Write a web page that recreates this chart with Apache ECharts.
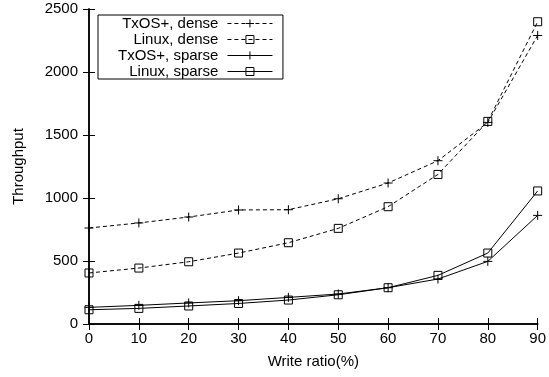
<!DOCTYPE html>
<html>
<head>
<meta charset="utf-8">
<script src="https://cdn.jsdelivr.net/npm/echarts@6/dist/echarts.min.js"></script>
<style>
html,body{margin:0;padding:0;background:#fff;}
#chart{width:549px;height:377px;}
</style>
</head>
<body>
<div id="chart"></div>
<script>
var writeRatio = [0, 10, 20, 30, 40, 50, 60, 70, 80, 90];
var txosDense = [762, 802, 849, 905, 907, 994, 1119, 1296, 1600, 2290];
var linuxDense = [405, 444, 494, 563, 645, 759, 931, 1187, 1608, 2399];
var txosSparse = [132, 148, 167, 185, 211, 238, 288, 357, 497, 862];
var linuxSparse = [113, 124, 143, 163, 190, 232, 288, 386, 563, 1056];
var seriesNames = ['TxOS+, dense', 'Linux, dense', 'TxOS+, sparse', 'Linux, sparse'];

var FONT = 'Liberation Sans';
var PLUS = 'path://M0,5L10,5M5,0L5,10';
var SQUARE = 'path://M0,0L10,0L10,10L0,10Z';

function pairs(vals) {
  return writeRatio.map(function (x, i) { return [x, vals[i]]; });
}
function mk(name, vals, symbol, size, dashed) {
  return {
    name: name,
    type: 'line',
    data: pairs(vals),
    symbol: symbol,
    symbolSize: size,
    clip: false,
    lineStyle: { color: '#000', width: 1, type: dashed ? [4, 3] : 'solid' },
    itemStyle: { color: 'rgba(0,0,0,0)', borderColor: '#000', borderWidth: 1 },
    emphasis: { disabled: true }
  };
}

var chart = echarts.init(document.getElementById('chart'), null, { renderer: 'canvas' });
var axisLine = { show: true, lineStyle: { color: '#000', width: 1.5 } };
var tick = { show: true, inside: true, length: 6, lineStyle: { color: '#000', width: 1 } };
function plain(v) { return String(v); }
chart.setOption({
  animation: false,
  backgroundColor: '#fff',
  textStyle: { fontFamily: FONT },
  grid: { left: 89, top: 9, width: 449, height: 315, containLabel: false },
  legend: {
    left: 98, top: 15,
    orient: 'vertical',
    align: 'right',
    data: seriesNames,
    itemWidth: 45, itemHeight: 10, itemGap: 1,
    padding: [1, 10, 0, 20],
    borderColor: '#000', borderWidth: 1,
    backgroundColor: '#fff',
    selectedMode: false,
    itemStyle: { borderWidth: 1 },
    lineStyle: { width: 1 },
    textStyle: { fontFamily: FONT, fontSize: 15, color: '#000', lineHeight: 15, padding: [0, 4, 0, 0] }
  },
  xAxis: [{
    type: 'value', min: 0, max: 90, interval: 10,
    name: 'Write ratio(%)', nameLocation: 'middle', nameGap: 30,
    nameTextStyle: { fontFamily: FONT, fontSize: 15, color: '#000' },
    axisLine: axisLine, axisTick: tick,
    axisLabel: { fontFamily: FONT, fontSize: 15, color: '#000', margin: 7, formatter: plain },
    splitLine: { show: false }
  }, {
    type: 'value', min: 0, max: 90, interval: 10, position: 'top',
    axisLine: axisLine, axisTick: tick, axisLabel: { show: false }, splitLine: { show: false }
  }],
  yAxis: [{
    type: 'value', min: 0, max: 2500, interval: 500,
    name: 'Throughput', nameLocation: 'middle', nameGap: 63,
    nameTextStyle: { fontFamily: FONT, fontSize: 15, color: '#000' },
    axisLine: axisLine, axisTick: tick,
    axisLabel: { fontFamily: FONT, fontSize: 15, color: '#000', margin: 11, formatter: plain },
    splitLine: { show: false }
  }, {
    type: 'value', min: 0, max: 2500, interval: 500, position: 'right',
    axisLine: axisLine, axisTick: tick, axisLabel: { show: false }, splitLine: { show: false }
  }],
  series: [
    mk(seriesNames[0], txosDense, PLUS, 9, true),
    mk(seriesNames[1], linuxDense, SQUARE, 8, true),
    mk(seriesNames[2], txosSparse, PLUS, 9, false),
    mk(seriesNames[3], linuxSparse, SQUARE, 8, false)
  ]
});
</script>
</body>
</html>
